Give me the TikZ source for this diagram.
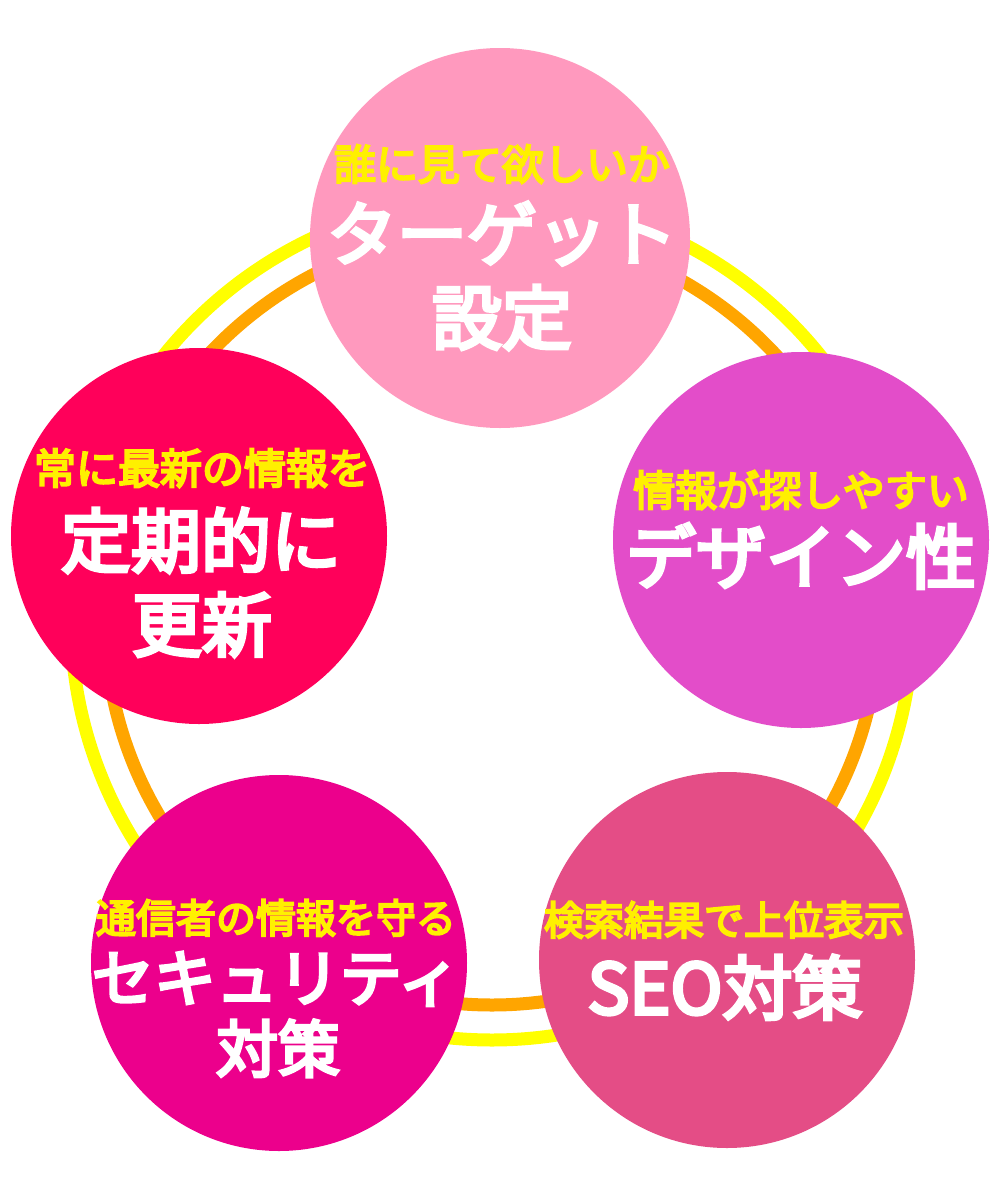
\documentclass[tikz,border=0pt]{standalone}
\usepackage{fontspec}
\setmainfont{Noto Sans CJK JP}
\newfontfamily\jpm{Noto Sans CJK JP}[FakeBold=5]
\definecolor{ringyellow}{HTML}{FFFF00}
\definecolor{ringorange}{HTML}{FFA500}
\definecolor{subyellow}{HTML}{FFF000}
\definecolor{cTop}{HTML}{FF99BE}
\definecolor{cRight}{HTML}{E34DC9}
\definecolor{cBR}{HTML}{E44D86}
\definecolor{cBL}{HTML}{EC008C}
\definecolor{cLeft}{HTML}{FF005A}
\begin{document}
\begin{tikzpicture}[x=1pt,y=-1pt,
  bub/.style={circle, fill=#1, draw=none, minimum size=376pt, inner sep=0pt},
  ringline/.style={draw=#1, line width=13pt, fill=none},
  subtxt/.style={anchor=base, inner sep=0pt, text=subyellow, font=\jpm\fontsize{42}{42}\selectfont},
  subtxtS/.style={subtxt, font=\jpm\fontsize{40}{40}\selectfont},
  maintxt/.style={anchor=base, inner sep=0pt, text=white, font=\jpm\fontsize{70}{70}\selectfont},
  maintxtS/.style={maintxt, font=\jpm\fontsize{62}{62}\selectfont}]
\useasboundingbox (0,0) rectangle (1000,1200);
\fill[white] (0,0) rectangle (1000,1200);
% rings
\draw[ringline=ringyellow] (492,619) circle[radius=421];
\draw[ringline=ringorange] (492,618) circle[radius=387];
% circles
\node[bub=cTop, minimum size=380pt] (top) at (500,238) {};
\node[bub=cRight] (right) at (801,540) {};
\node[bub=cBR] (br) at (727,960) {};
\node[bub=cBL] (bl) at (279,963) {};
\node[bub=cLeft] (left) at (199,536) {};
% texts top
\node[subtxt] (top1) at (502,180) {誰に見て欲しいか};
\node[maintxt] (top2) at (502,260) {ターゲット};
\node[maintxt] (top3) at (502,344) {設定};
% right
\node[subtxt] (right1) at (801,506) {情報が探しやすい};
\node[maintxt] (right2) at (801,583) {デザイン性};
% bottom right
\node[subtxtS] (br1) at (724,935) {検索結果で上位表示};
\node[maintxt] (br2) at (725,1014) {SEO対策};
% bottom left
\node[subtxtS] (bl1) at (276,933) {通信者の情報を守る};
\node[maintxtS] (bl2) at (276,1001) {セキュリティ};
\node[maintxtS] (bl3) at (278,1072) {対策};
% left
\node[subtxt] (left1) at (202,484) {常に最新の情報を};
\node[maintxt] (left2) at (201,567) {定期的に};
\node[maintxt] (left3) at (202,651) {更新};
\end{tikzpicture}
\end{document}
